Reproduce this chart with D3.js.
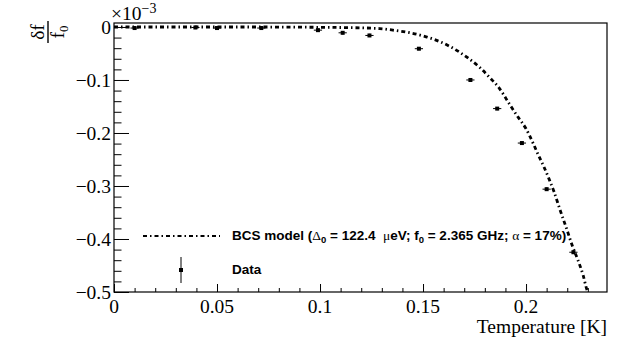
<!DOCTYPE html>
<html>
<head>
<meta charset="utf-8">
<script src="https://d3js.org/d3.v7.min.js"></script>
<style>
body { margin: 0; background: #fff; }
.chart { font-family: 'Liberation Serif', serif; }
.tick-label { font-size: 19.5px; fill: #000; }
.legend-text { font-family: 'Liberation Sans', Arial, sans-serif; font-weight: bold; font-size: 13.5px; }
</style>
</head>
<body>
<div class="chart"></div>
<script>
// measured points (temperature in K, df/f0 in units of 1e-3)
const dataT   = [0.010, 0.0395, 0.050, 0.0715, 0.099, 0.111, 0.124, 0.148, 0.173, 0.186, 0.198, 0.210, 0.223];
const dataV   = [-0.002, -0.001, -0.002, -0.002, -0.006, -0.011, -0.016, -0.041, -0.100, -0.154, -0.219, -0.306, -0.425];
const dataErrT = [0.002, 0.002, 0.002, 0.002, 0.002, 0.002, 0.002, 0.002, 0.002, 0.002, 0.002, 0.002, 0.002];
const dataErrV = [0.003, 0.003, 0.003, 0.003, 0.003, 0.003, 0.003, 0.003, 0.003, 0.003, 0.003, 0.003, 0.003];

// BCS model curve
const modelT = [0, 0.06, 0.1097, 0.129, 0.1354, 0.1437, 0.1519, 0.1617, 0.1718, 0.1777, 0.1825, 0.1869,
                0.1922, 0.1961, 0.2, 0.2034, 0.2058, 0.2087, 0.2112, 0.2136, 0.2165, 0.2199, 0.2223,
                0.2252, 0.2277, 0.2296, 0.2301];
const modelV = [0, 0, -0.001, -0.003, -0.006, -0.011, -0.019, -0.034, -0.0585, -0.077, -0.096, -0.115,
                -0.147, -0.170, -0.192, -0.219, -0.240, -0.264, -0.287, -0.311, -0.345, -0.383, -0.411,
                -0.440, -0.468, -0.496, -0.5];

const xTicks = [0, 0.05, 0.1, 0.15, 0.2];
const yTicks = [0, -0.1, -0.2, -0.3, -0.4, -0.5];

const W = 623, H = 342;
const padL = 114, padR = 607, padT = 23, padB = 292;

const svg = d3.select(".chart").append("svg")
    .attr("width", W)
    .attr("height", H);

const x = d3.scaleLinear().domain([0, 0.2393]).range([padL, padR]);
const y = d3.scaleLinear().domain([-0.5, 0.0075]).range([padB, padT]);

// frame
svg.append("rect")
    .attr("x", padL).attr("y", padT)
    .attr("width", padR - padL).attr("height", padB - padT)
    .attr("fill", "none").attr("stroke", "#000").attr("stroke-width", 1.2);

// x axis, ticks point into the frame
const xAxis = d3.axisBottom(x).tickValues(d3.range(0, 0.2391, 0.01))
    .tickSize(0).tickFormat("");
const gx = svg.append("g").attr("transform", `translate(0,${padB})`).call(xAxis);
gx.select(".domain").remove();
gx.selectAll(".tick line")
    .attr("y2", (d) => Math.abs(Math.round(d * 100) % 5) === 0 ? -8 : -4)
    .attr("stroke", "#000");
svg.selectAll(".xl").data(xTicks).enter().append("text")
    .attr("class", "tick-label")
    .attr("x", (d) => x(d))
    .attr("y", padB + 21)
    .attr("text-anchor", "middle")
    .text((d) => d === 0 ? "0" : String(d));

// y axis
const yAxis = d3.axisLeft(y).tickValues(d3.range(-0.5, 0.001, 0.02))
    .tickSize(0).tickFormat("");
const gy = svg.append("g").attr("transform", `translate(${padL},0)`).call(yAxis);
gy.select(".domain").remove();
gy.selectAll(".tick line")
    .attr("x2", (d) => Math.abs(Math.round(d * 100) % 10) === 0 ? 15 : 7.5)
    .attr("stroke", "#000");
svg.selectAll(".yl").data(yTicks).enter().append("text")
    .attr("class", "tick-label")
    .attr("x", padL - 3)
    .attr("y", (d) => y(d) + 7)
    .attr("text-anchor", "end")
    .text((d) => d === 0 ? "0" : "\u2212" + String(Math.abs(d)));

// exponent
const ex = svg.append("text").attr("class", "tick-label").attr("x", padL - 3).attr("y", 20);
ex.append("tspan").text("\u00d710");
ex.append("tspan").attr("dy", -7).style("font-size", "14px").text("\u22123");

// x title
svg.append("text").attr("class", "tick-label")
    .attr("x", padR).attr("y", 333)
    .attr("text-anchor", "end")
    .text("Temperature [K]");

// y title, rotated fraction
const yt = svg.append("g").attr("transform", "translate(48,32) rotate(-90)");
yt.append("text").attr("class", "tick-label").attr("text-anchor", "middle")
    .attr("x", 0).attr("y", -4).text("\u03b4f");
yt.append("line").attr("x1", -11).attr("x2", 11).attr("y1", 0).attr("y2", 0)
    .attr("stroke", "#000").attr("stroke-width", 1.4);
const den = yt.append("text").attr("class", "tick-label").attr("text-anchor", "middle")
    .attr("x", 0).attr("y", 16);
den.append("tspan").text("f");
den.append("tspan").attr("dy", 4).style("font-size", "13px").text("0");

// model curve
const line = d3.line()
    .x((d) => x(d[0]))
    .y((d) => y(d[1]))
    .curve(d3.curveMonotoneX);
const modelPts = modelT.map((t, i) => [t, modelV[i]]);
const dash = "4,3,1.5,3";
svg.append("path")
    .datum(modelPts)
    .attr("d", line)
    .attr("fill", "none")
    .attr("stroke", "#000")
    .attr("stroke-width", 2.8)
    .attr("stroke-dasharray", dash);

// data points
const pts = dataT.map((t, i) => ({ t: t, v: dataV[i], et: dataErrT[i], ev: dataErrV[i] }));
const g = svg.append("g");
g.selectAll(".eh").data(pts).enter().append("line")
    .attr("x1", (d) => x(d.t - d.et)).attr("x2", (d) => x(d.t + d.et))
    .attr("y1", (d) => y(d.v)).attr("y2", (d) => y(d.v))
    .attr("stroke", "#000").attr("stroke-width", 1);
g.selectAll(".ev").data(pts).enter().append("line")
    .attr("x1", (d) => x(d.t)).attr("x2", (d) => x(d.t))
    .attr("y1", (d) => y(d.v - d.ev)).attr("y2", (d) => y(d.v + d.ev))
    .attr("stroke", "#000").attr("stroke-width", 1);
g.selectAll(".m").data(pts).enter().append("rect")
    .attr("x", (d) => x(d.t) - 2).attr("y", (d) => y(d.v) - 2)
    .attr("width", 4).attr("height", 4).attr("fill", "#000");

// legend
svg.append("line")
    .attr("x1", 143).attr("x2", 220).attr("y1", 236).attr("y2", 236)
    .attr("stroke", "#000").attr("stroke-width", 1.8).attr("stroke-dasharray", dash);
const lt = svg.append("text").attr("class", "legend-text").attr("x", 232).attr("y", 240);
lt.append("tspan").text("BCS model (");
lt.append("tspan").style("font-family", "'Liberation Serif', serif").style("font-weight", "normal").text("\u0394");
lt.append("tspan").attr("dy", 3).style("font-size", "9.5px").text("0");
lt.append("tspan").attr("dy", -3).text(" = 122.4 \u00a0");
lt.append("tspan").style("font-family", "'Liberation Serif', serif").style("font-weight", "normal").text("\u03bc");
lt.append("tspan").text("eV; f");
lt.append("tspan").attr("dy", 3).style("font-size", "9.5px").text("0");
lt.append("tspan").attr("dy", -3).text(" = 2.365 GHz; ");
lt.append("tspan").style("font-family", "'Liberation Serif', serif").style("font-weight", "normal").text("\u03b1");
lt.append("tspan").text(" = 17%)");

svg.append("line")
    .attr("x1", 181).attr("x2", 181).attr("y1", 257).attr("y2", 283)
    .attr("stroke", "#000").attr("stroke-width", 1);
svg.append("rect").attr("x", 179).attr("y", 268).attr("width", 4).attr("height", 4).attr("fill", "#000");
svg.append("text").attr("class", "legend-text").attr("x", 232).attr("y", 274).text("Data");
</script>
</body>
</html>
